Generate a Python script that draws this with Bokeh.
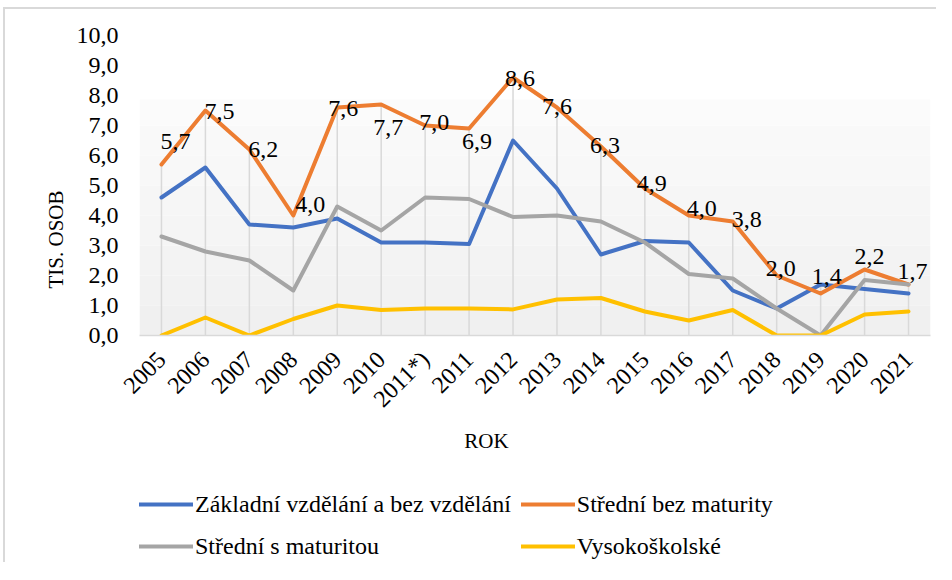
from math import pi
from bokeh.plotting import figure
from bokeh.layouts import column
from bokeh.models import (ColumnDataSource, FactorRange, Range1d, FixedTicker, Legend,
                          LegendItem, Title, Label, BoxAnnotation)
from bokeh.core.properties import value
from bokeh.embed import file_html
from bokeh.resources import INLINE

# ---- data -------------------------------------------------------------
years = ["2005", "2006", "2007", "2008", "2009", "2010", "2011*)", "2011", "2012",
         "2013", "2014", "2015", "2016", "2017", "2018", "2019", "2020", "2021"]
zakladni = [4.6, 5.6, 3.7, 3.6, 3.9, 3.1, 3.1, 3.05, 6.5, 4.9, 2.7, 3.15, 3.1, 1.5, 0.9, 1.7, 1.55, 1.4]
stredni_bez = [5.7, 7.5, 6.2, 4.0, 7.6, 7.7, 7.0, 6.9, 8.6, 7.6, 6.3, 4.9, 4.0, 3.8, 2.0, 1.4, 2.2, 1.7]
stredni_s = [3.3, 2.8, 2.5, 1.5, 4.3, 3.5, 4.6, 4.55, 3.95, 4.0, 3.8, 3.1, 2.05, 1.9, 0.9, 0.0, 1.85, 1.7]
vysokoskolske = [0.0, 0.6, 0.0, 0.55, 1.0, 0.85, 0.9, 0.9, 0.87, 1.2, 1.25, 0.8, 0.5, 0.85, 0.0, 0.0, 0.7, 0.8]
series_names = ["Základní vzdělání a bez vzdělání", "Střední bez maturity",
                "Střední s maturitou", "Vysokoškolské"]
y_ticks = [0, 1, 2, 3, 4, 5, 6, 7, 8, 9, 10]
y_title = "TIS. OSOB"
x_title = "ROK"

# ---- styles -----------------------------------------------------------
colors = ["#4472C4", "#ED7D31", "#A5A5A5", "#FFC000"]
FONT = "Liberation Serif"
label_dx = [14, 14, 14, 17, 6, 7, 9, 8, 7, 0, 4, 7, 13, 14, 4, 6, 5, 4]
label_dy = [-23, 1, 0, -11, 1, 23, -3, 13, 1, -1, -1, -5, -7, -2, -7, -17, -13, -13]
band_edges = [0.0, 1.0, 2.0, 3.0, 4.0, 5.0, 6.0, 7.0, 7.87]
band_colors = ["#f0f0f0", "#f2f2f2", "#f3f3f3", "#f5f5f5", "#f6f6f6", "#f8f8f8", "#f9f9f9", "#fbfbfb"]
all_series = [zakladni, stredni_bez, stredni_s, vysokoskolske]

# ---- main chart -------------------------------------------------------
p = figure(frame_width=791, frame_height=300, x_range=FactorRange(*years), y_range=Range1d(0, 10),
           output_backend="svg", toolbar_location=None,
           min_border_left=139, min_border_right=6, min_border_top=35, min_border_bottom=88)
p.styles = {"box-shadow": "inset 3px 7px 0 0 #ffffff, inset 5px 9px 0 0 #d9d9d9",
            "background-color": "#ffffff"}
p.outline_line_color = None
p.xgrid.grid_line_color = None
p.ygrid.grid_line_color = None
p.background_fill_color = None
p.border_fill_color = None

for i in range(len(band_colors)):
    p.add_layout(BoxAnnotation(bottom=band_edges[i], top=band_edges[i + 1],
                               fill_color=band_colors[i], fill_alpha=1.0,
                               line_color=None, level="underlay"))

# drop lines from the highest series value to the axis
tops = [max(vals) for vals in zip(*all_series)]
p.segment(x0=years, y0=[0] * len(years), x1=years, y1=tops, line_color="#d9d9d9", line_width=1.5)

for data, col in zip(all_series, colors):
    p.line(years, data, line_color=col, line_width=4, line_join="round", line_cap="round")

lab_src = ColumnDataSource(dict(x=years, y=stredni_bez,
                                t=[f"{v:.1f}".replace(".", ",") for v in stredni_bez],
                                dx=label_dx, dy=label_dy))
p.text(x="x", y="y", text="t", x_offset="dx", y_offset="dy", source=lab_src,
       text_align="center", text_baseline="middle", text_font=value(FONT),
       text_font_size="24px", text_color="black")

p.yaxis.ticker = FixedTicker(ticks=y_ticks)
p.yaxis.major_label_overrides = {t: f"{t:.1f}".replace(".", ",") for t in y_ticks}
p.yaxis.axis_line_color = None
p.yaxis.major_tick_line_color = None
p.yaxis.minor_tick_line_color = None
p.yaxis.major_tick_out = 0
p.yaxis.major_tick_in = 0
p.yaxis.major_label_standoff = 21
p.yaxis.major_label_text_font = FONT
p.yaxis.major_label_text_font_size = "24px"
p.yaxis.major_label_text_color = "black"

p.xaxis.axis_line_color = "#d9d9d9"
p.xaxis.axis_line_width = 1.5
p.xaxis.major_tick_line_color = None
p.xaxis.minor_tick_line_color = None
p.xaxis.major_tick_out = 0
p.xaxis.major_tick_in = 0
p.xaxis.major_label_orientation = pi / 4
p.xaxis.major_label_standoff = 20
p.xaxis.major_label_text_font = FONT
p.xaxis.major_label_text_font_size = "24px"
p.xaxis.major_label_text_color = "black"

p.add_layout(Title(text=y_title, align="left", offset=47, vertical_align="middle", standoff=10,
                   text_font=FONT, text_font_size="21px", text_font_style="normal",
                   text_color="black"), "left")

# ---- lower strip: axis title and legend -------------------------------
# (its frame is aligned with the chart's frame by the column layout)
p2 = figure(width=936, height=138, x_range=FactorRange(*years), y_range=Range1d(100, 101),
            output_backend="svg", toolbar_location=None, x_axis_type=None, y_axis_type=None,
            min_border=0)
p2.styles = {"box-shadow": "inset 3px 0 0 0 #ffffff, inset 5px 0 0 0 #d9d9d9",
             "background-color": "#ffffff"}
p2.outline_line_color = None
p2.grid.visible = False
p2.background_fill_color = None
p2.border_fill_color = None

p2.add_layout(Label(x=347, y=122, x_units="screen", y_units="screen", text=x_title,
                    text_align="center", text_baseline="middle", text_font=FONT,
                    text_font_size="21px", text_color="black"))

# legend entries (series drawn outside this strip's visible range, only their keys show)
proxies = [p2.line(years, data, line_color=col, line_width=4, line_cap="round")
           for data, col in zip(all_series, colors)]
legend = Legend(items=[LegendItem(label=n, renderers=[r]) for n, r in zip(series_names, proxies)],
                location=(0, 0), orientation="horizontal", ncols=2,
                label_text_font=FONT, label_text_font_size="24px", label_text_color="black",
                glyph_width=54, glyph_height=24, label_height=32, label_standoff=2, spacing=10,
                padding=0, margin=0, border_line_color=None, background_fill_alpha=0)
p2.add_layout(legend)

layout = column(p, p2, spacing=0)
open("out.html", "w").write(file_html(layout, INLINE))
